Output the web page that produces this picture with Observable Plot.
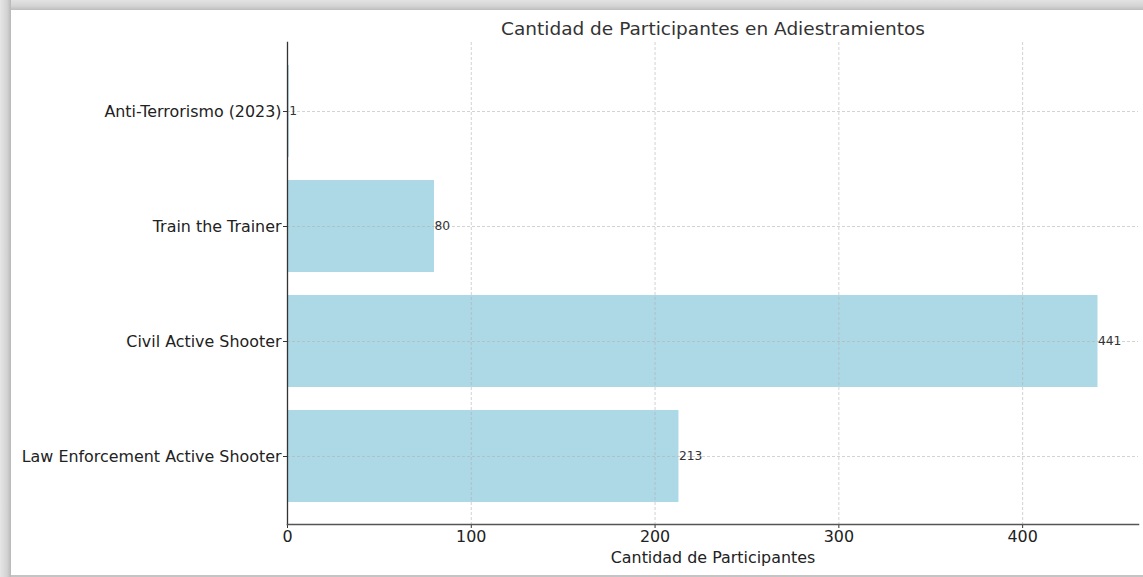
<!DOCTYPE html>
<html>
<head>
<meta charset="utf-8">
<script src="https://cdn.jsdelivr.net/npm/d3@7"></script>
<script src="https://cdn.jsdelivr.net/npm/@observablehq/plot@0.6"></script>
<style>
  html, body { margin: 0; padding: 0; background: #fff; width: 1143px; height: 577px; overflow: hidden; }
  #frameTop { position: absolute; left: 0; top: 0; width: 1143px; height: 10px;
    background: linear-gradient(to bottom, #e2e2e2 0%, #d4d4d4 60%, #bdbdbd 100%); }
  #frameLeft { position: absolute; left: 0; top: 0; width: 11px; height: 577px;
    background: linear-gradient(to right, #e6e6e6 0%, #d2d2d2 65%, #b8b8b8 100%); }
  #frameBottom { position: absolute; left: 11px; top: 575px; width: 1132px; height: 2px; background: #c4c4c4; }
  #chart { position: absolute; left: 0; top: 0; }
</style>
</head>
<body>
<div id="frameTop"></div>
<div id="frameLeft"></div>
<div id="frameBottom"></div>
<div id="chart"></div>
<script>
const categories = [
  "Anti-Terrorismo (2023)",
  "Train the Trainer",
  "Civil Active Shooter",
  "Law Enforcement Active Shooter"
];
const participants = [1, 80, 441, 213];
const xTicks = [0, 100, 200, 300, 400];
const titleText = "Cantidad de Participantes en Adiestramientos";
const xLabel = "Cantidad de Participantes";

const data = categories.map((c, i) => ({category: c, value: participants[i]}));
const xMax = d3.max(participants) * 1.05;
const font = "DejaVu Sans, sans-serif";

const chart = Plot.plot({
  width: 1143,
  height: 577,
  marginLeft: 287,
  marginRight: 5,
  marginTop: 42,
  marginBottom: 53,
  style: {background: "transparent", fontFamily: font, color: "#333"},
  x: {domain: [0, xMax]},
  y: {domain: categories, paddingInner: 0.2, paddingOuter: 0.19},
  marks: [
    Plot.barX(data, {x: "value", y: "category", fill: "#add8e6"}),
    Plot.gridX(xTicks, {stroke: "#b0b0b0", strokeOpacity: 0.7, strokeWidth: 0.8, strokeDasharray: "3,2"}),
    Plot.gridY({stroke: "#b0b0b0", strokeOpacity: 0.7, strokeWidth: 0.8, strokeDasharray: "3,2"}),
    Plot.text(data, {x: "value", y: "category", text: d => String(d.value), textAnchor: "start",
      fontSize: 12.3, fill: "#333", fontFamily: font}),
    Plot.axisY({tickSize: 4, tickPadding: 2, fontSize: 15.9, label: null, stroke: "#333", fill: "#222"}),
    Plot.axisX(xTicks, {tickSize: 4, tickPadding: 2, fontSize: 15.9, label: null, stroke: "#333", fill: "#222"}),
    Plot.frame({anchor: "left", stroke: "#333", strokeWidth: 1.3}),
    Plot.frame({anchor: "bottom", stroke: "#555", strokeWidth: 1.5}),
    Plot.text([titleText], {frameAnchor: "top", lineAnchor: "middle", dy: -13, fontSize: 18.5, fill: "#333", fontFamily: font}),
    Plot.text([xLabel], {frameAnchor: "bottom", lineAnchor: "middle", dy: 33, fontSize: 15.9, fill: "#222", fontFamily: font})
  ]
});
document.getElementById("chart").appendChild(chart);
</script>
</body>
</html>
